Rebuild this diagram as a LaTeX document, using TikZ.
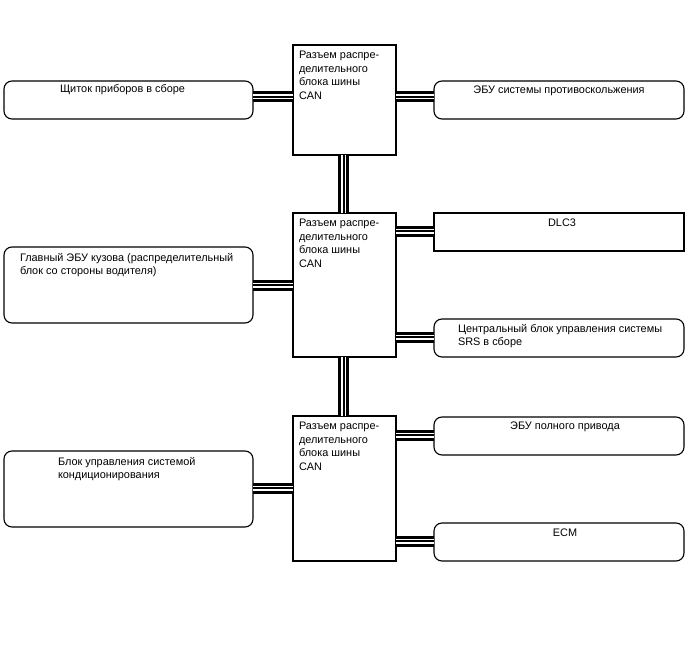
\documentclass[tikz,border=0pt]{standalone}
\usepackage{fontspec}
\setmainfont{Liberation Sans}
\begin{document}
\begin{tikzpicture}[x=1pt,y=-1pt,
  box/.style={draw=black,line width=1.1pt,inner sep=0pt,outer sep=0pt,fill=white},
  rbox/.style={box,rounded corners=8pt},
  wbox/.style={minimum width=250pt,minimum height=38pt},
  lbl/.style={inner sep=0pt,outer sep=0pt,align=left,font=\fontsize{10.9}{13.6}\selectfont},
  bus/.style={line width=11pt,postaction={draw=white,double=black,double distance=2pt,line width=1.5pt}}]
\useasboundingbox (0,0) rectangle (688,658);
% connector blocks
\node[box,minimum width=103pt,minimum height=110pt] (C1) at (344.5,100) {};
\node[box,minimum width=103pt,minimum height=144pt] (C2) at (344.5,285) {};
\node[box,minimum width=103pt,minimum height=145pt] (C3) at (344.5,488.5) {};
% left units
\node[rbox,minimum width=249pt,minimum height=38pt] (L1) at (128.5,100) {};
\node[rbox,minimum width=249pt,minimum height=76pt] (L2) at (128.5,285) {};
\node[rbox,minimum width=249pt,minimum height=76pt] (L3) at (128.5,489) {};
% right units
\node[rbox,wbox] (R1) at (559,100) {};
\node[box,wbox] (R2) at (559,232) {};
\node[rbox,wbox] (R3) at (559,338) {};
\node[rbox,wbox] (R4) at (559,436) {};
\node[rbox,wbox] (R5) at (559,542) {};
% buses
\draw[bus] (L1.east |- 0,97) -- (C1.west |- 0,97);
\draw[bus] (C1.east |- 0,97) -- (R1.west |- 0,97);
\draw[bus] (C1.south -| 343.5,0) -- (C2.north -| 343.5,0);
\draw[bus] (C2.south -| 343.5,0) -- (C3.north -| 343.5,0);
\draw[bus] (L2.east |- 0,285) -- (C2.west |- 0,285);
\draw[bus] (C2.east |- 0,231) -- (R2.west |- 0,231);
\draw[bus] (C2.east |- 0,337) -- (R3.west |- 0,337);
\draw[bus] (L3.east |- 0,488) -- (C3.west |- 0,488);
\draw[bus] (C3.east |- 0,435) -- (R4.west |- 0,435);
\draw[bus] (C3.east |- 0,541) -- (R5.west |- 0,541);
% texts
\node[lbl,anchor=north west] (tc1) at (299,51) {Разъем распре-\\делительного\\блока шины\\CAN};
\node[lbl,anchor=north west] (tc2) at (299,219) {Разъем распре-\\делительного\\блока шины\\CAN};
\node[lbl,anchor=north west] (tc3) at (299,422) {Разъем распре-\\делительного\\блока шины\\CAN};
\node[lbl,anchor=north west] (tl1) at (60,85) {Щиток приборов в сборе};
\node[lbl,anchor=north west] (tl2) at (20,253) {Главный ЭБУ кузова (распределительный\\блок со стороны водителя)};
\node[lbl,anchor=north west] (tl3) at (58,457) {Блок управления системой\\кондиционирования};
\node[lbl,anchor=north] (tr1) at (559,86) {ЭБУ системы противоскольжения};
\node[lbl,anchor=north] (tr2) at (562,219) {DLC3};
\node[lbl,anchor=north west] (tr3) at (458,324) {Центральный блок управления системы\\SRS в сборе};
\node[lbl,anchor=north] (tr4) at (565,422) {ЭБУ полного привода};
\node[lbl,anchor=north] (tr5) at (565,529) {ECM};
\end{tikzpicture}
\end{document}
